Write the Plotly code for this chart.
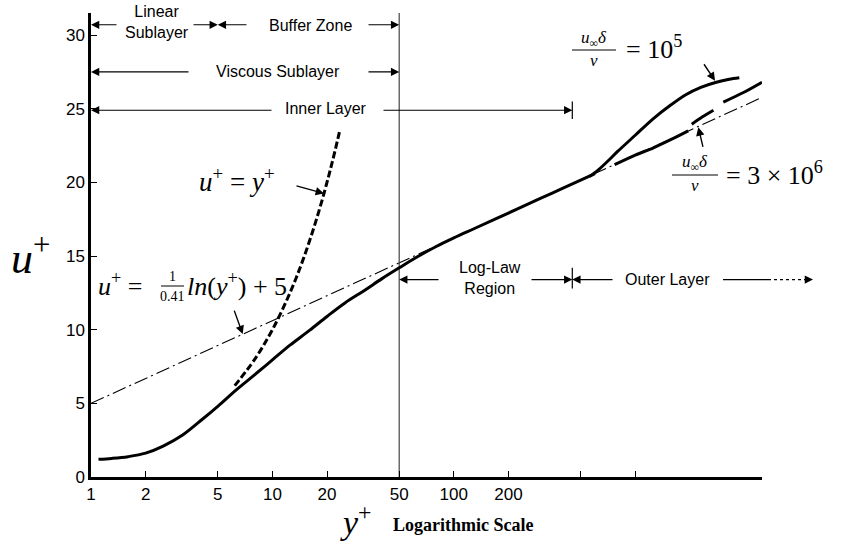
import numpy as np
import plotly.graph_objects as go

# ---- mean velocity profile in wall units -------------------------------
YP_MAIN = [1.1, 1.3, 1.6, 2, 2.5, 3.2, 4, 5, 6.3, 8, 10, 12.5, 16, 20, 25, 32, 40, 50,
           63, 80, 100, 130, 200, 300, 400, 600]
UP_MAIN = [1.2, 1.26, 1.38, 1.62, 2.1, 2.85, 3.8, 4.8, 5.9, 6.95, 7.95, 8.95, 9.95, 10.9,
           11.8, 12.65, 13.45, 14.2, 14.95, 15.65, 16.23, 16.87, 17.92, 18.91, 19.61, 20.6]

# outer-layer wake, u_inf*delta/nu = 1e5
YP_RE1E5 = [560, 620, 700, 800, 1000, 1250, 1550, 1900, 2300, 2800, 3300, 3750]
UP_RE1E5 = [20.4, 20.8, 21.4, 22.1, 23.2, 24.3, 25.2, 25.95, 26.45, 26.8, 27.0, 27.1]

# outer-layer wake, u_inf*delta/nu = 3e6 (drawn in broken pieces)
YP_RE3E6 = [770, 1000, 1260, 1600, 1960, None, 2050, 2350, 2700, None, 3060, 3950, 5000]
UP_RE3E6 = [21.2, 21.85, 22.35, 22.95, 23.5, None, 23.95, 24.45, 24.9, None, 25.45, 26.1, 26.8]

# viscous sublayer law u+ = y+
YP_LIN = [6.2, 8, 10, 12.5, 15, 18, 21, 23.6]
UP_LIN = [6.2, 8, 10, 12.5, 15, 18, 21, 23.6]

# log law u+ = ln(y+)/0.41 + 5, end points
YP_LOGLAW = [1, 5000]
UP_LOGLAW = [5.0, 25.77]

# axes
X_TICKS = [1, 2, 5, 10, 20, 50, 100, 200, 500, 1000, 5000]
X_TICK_TEXT = ["1", "2", "5", "10", "20", "50", "100", "200", "", "", ""]
Y_TICKS = [0, 5, 10, 15, 20, 25, 30]
X_MAX = 5000
Y_MAX = 31.5

# region boundaries in y+
B_WALL, B_LINEAR, B_BUFFER, B_INNER = 1, 5, 50, 450

# ---- page geometry ------------------------------------------------------
W, H = 842, 542
L, R, T, B = 91, 762, 13, 477      # plot area in pixels
PW, PH = R - L, B - T
XMAX_LOG = np.log10(X_MAX)

def px(xp):
    return (xp - L) / PW

def py(yp):
    return (B - yp) / PH

def xpix(yplus):
    return L + np.log10(yplus) / XMAX_LOG * PW

def upix(u):
    return B - u / Y_MAX * PH

SANS = "Liberation Sans"
SERIF = "Liberation Serif"
INK = "black"

fig = go.Figure()

fig.add_trace(go.Scatter(x=YP_LOGLAW, y=UP_LOGLAW, mode="lines",
                         line=dict(color=INK, width=1.1, dash="14px,4px,2px,4px")))
fig.add_trace(go.Scatter(x=[B_BUFFER, B_BUFFER], y=[0, Y_MAX], mode="lines",
                         line=dict(color="#444", width=1.2)))
fig.add_trace(go.Scatter(x=YP_LIN, y=UP_LIN, mode="lines",
                         line=dict(color=INK, width=3, dash="7px,3px", shape="spline")))
fig.add_trace(go.Scatter(x=YP_MAIN, y=UP_MAIN, mode="lines",
                         line=dict(color=INK, width=3, shape="spline", smoothing=1)))
fig.add_trace(go.Scatter(x=YP_RE1E5, y=UP_RE1E5, mode="lines",
                         line=dict(color=INK, width=3, shape="spline", smoothing=0.8)))
fig.add_trace(go.Scatter(x=YP_RE3E6, y=UP_RE3E6, mode="lines", connectgaps=False,
                         line=dict(color=INK, width=3, shape="spline", smoothing=0.8)))

# short end bars of the inner-layer and log-law brackets
fig.add_trace(go.Scatter(x=[B_INNER, B_INNER], y=[25.5, 24.3], mode="lines",
                         line=dict(color=INK, width=1.2)))
fig.add_trace(go.Scatter(x=[B_INNER, B_INNER], y=[14.2, 12.8], mode="lines",
                         line=dict(color=INK, width=1.2)))

# ---- bracket arrows -----------------------------------------------------
def bracket(head, u, tail_px):
    fig.add_annotation(x=np.log10(head), y=u, xref="x", yref="y",
                       ax=tail_px - xpix(head), ay=0, text="", showarrow=True,
                       arrowhead=2, arrowsize=1.5, arrowwidth=1.1, arrowcolor=INK,
                       standoff=0)

ROW1, ROW2, ROW3, ROW4 = 30.7, 27.5, 24.9, 13.4

bracket(B_WALL, ROW1, 118)
bracket(B_LINEAR, ROW1, 192)
bracket(B_LINEAR, ROW1, 248)
bracket(B_BUFFER, ROW1, 367)
bracket(B_WALL, ROW2, 190)
bracket(B_BUFFER, ROW2, 367)
bracket(B_WALL, ROW3, 273)
bracket(B_INNER, ROW3, 382)
bracket(B_BUFFER, ROW4, 440)
bracket(B_INNER, ROW4, 530)
bracket(B_INNER, ROW4, 614)

# outer-layer arrow runs past the end of the axis
yr4 = py(upix(ROW4))
fig.add_shape(type="line", xref="paper", yref="paper", x0=px(723), x1=px(768),
              y0=yr4, y1=yr4, line=dict(color=INK, width=1.1))
fig.add_shape(type="line", xref="paper", yref="paper", x0=px(768), x1=px(806),
              y0=yr4, y1=yr4, line=dict(color=INK, width=1.1, dash="dot"))
fig.add_annotation(x=px(813), y=yr4, xref="paper", yref="paper", ax=-8, ay=0,
                   text="", showarrow=True, arrowhead=2, arrowsize=1.5,
                   arrowwidth=1.1, arrowcolor=INK, standoff=0)

# ---- region labels --------------------------------------------------------
def label(text, xp, yp, size=16, family=SANS, xanchor="center", **kw):
    fig.add_annotation(x=px(xp), y=py(yp), xref="paper", yref="paper", text=text,
                       showarrow=False, xanchor=xanchor, yanchor="middle",
                       font=dict(family=family, size=size, color=INK), **kw)

label("Linear<br>Sublayer", 157, 22)
label("Buffer Zone", 310, 25)
label("Viscous Sublayer", 278, 71)
label("Inner Layer", 326, 109)
label("Log-Law<br>Region", 490, 278)
label("Outer Layer", 667, 279)

# ---- formulas ---------------------------------------------------------------
label("<i>u</i><sup>+</sup> = <i>y</i><sup>+</sup>", 237, 180, size=27, family=SERIF)
fig.add_annotation(x=np.log10(19.25), y=19.25, xref="x", yref="y", ax=-29, ay=-8,
                   text="", showarrow=True, arrowhead=2, arrowsize=1.2, arrowwidth=1.4,
                   arrowcolor=INK, standoff=0)

label("<i>u</i><sup>+</sup> =", 96, 284, size=26, family=SERIF, xanchor="left")
label("1", 172, 276, size=14, family=SERIF)
label("0.41", 172, 296, size=14, family=SERIF)
fig.add_shape(type="line", xref="paper", yref="paper", x0=px(161), x1=px(184),
              y0=py(286), y1=py(286), line=dict(color=INK, width=1))
label("<i>ln</i>(<i>y</i><sup>+</sup>) + 5", 185, 284, size=26, family=SERIF,
      xanchor="left")
fig.add_annotation(x=np.log10(6.86), y=9.70, xref="x", yref="y", ax=-9, ay=-25,
                   text="", showarrow=True, arrowhead=2, arrowsize=1.2, arrowwidth=1.4,
                   arrowcolor=INK, standoff=0)

def reynolds(xc, ynum, ybar, yden, x0, x1, rhs, xr, yr):
    label("<i>u</i><sub>∞</sub><i>δ</i>", xc, ynum, size=17, family=SERIF)
    fig.add_shape(type="line", xref="paper", yref="paper", x0=px(x0), x1=px(x1),
                  y0=py(ybar), y1=py(ybar), line=dict(color=INK, width=1))
    label("<i>ν</i>", xc, yden, size=17, family=SERIF)
    label(rhs, xr, yr, size=26, family=SERIF, xanchor="left")

reynolds(594, 39, 50, 61, 572, 616, "= 10<sup>5</sup>", 624, 47)
fig.add_annotation(x=np.log10(2754), y=26.9, xref="x", yref="y", ax=-12, ay=-18,
                   text="", showarrow=True, arrowhead=2, arrowsize=1.2, arrowwidth=1.4,
                   arrowcolor=INK, standoff=0)

reynolds(695, 163, 175, 186, 672, 718, "= 3 × 10<sup>6</sup>", 724, 173)
fig.add_annotation(x=np.log10(2228), y=23.74, xref="x", yref="y", ax=5, ay=21,
                   text="", showarrow=True, arrowhead=2, arrowsize=1.2, arrowwidth=1.4,
                   arrowcolor=INK, standoff=0)

# ---- axis titles -------------------------------------------------------------
label("<i>u</i><sup>+</sup>", 30, 255, size=44, family=SERIF)
label("<i>y</i><sup>+</sup>", 356, 520, size=34, family=SERIF)
label("<b>Logarithmic Scale</b>", 391, 525, size=18, family=SERIF, xanchor="left")

fig.update_xaxes(type="log", range=[0, XMAX_LOG], tickvals=X_TICKS, ticktext=X_TICK_TEXT,
                 ticks="inside", ticklen=6, tickwidth=1, tickcolor=INK,
                 showline=True, linewidth=2.5, linecolor=INK, showgrid=False,
                 zeroline=False, tickfont=dict(family=SANS, size=17, color=INK))
fig.update_yaxes(range=[0, Y_MAX], tickvals=Y_TICKS, ticks="inside", ticklen=6,
                 tickwidth=1, tickcolor=INK, showline=True, linewidth=2.5,
                 linecolor=INK, showgrid=False, zeroline=False,
                 tickfont=dict(family=SANS, size=17, color=INK))

fig.update_layout(width=W, height=H, margin=dict(l=L, r=W - R, t=T, b=H - B),
                  paper_bgcolor="white", plot_bgcolor="white", showlegend=False)

fig.write_html("out.html", config={"displayModeBar": False})
